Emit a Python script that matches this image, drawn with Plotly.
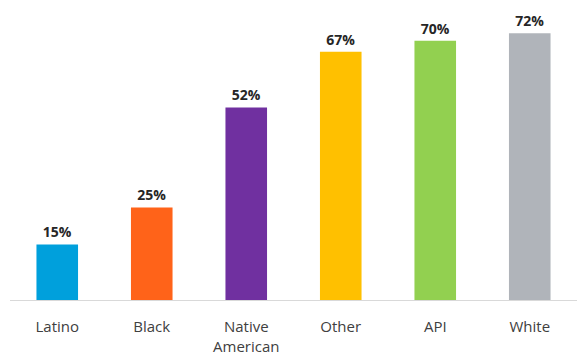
import plotly.graph_objects as go

categories = ["Latino", "Black", "Native<br>American", "Other", "API", "White"]
values = [15, 25, 52, 67, 70, 72]
labels = ["15%", "25%", "52%", "67%", "70%", "72%"]
colors = ["#00A0DC", "#FF6319", "#7030A0", "#FFC000", "#92D050", "#B0B4BA"]

fig = go.Figure(go.Bar(
    x=categories, y=values, marker_color=colors, marker_line_width=0,
    text=labels, textposition="outside", cliponaxis=False,
    textfont=dict(family="Open Sans", size=14, color="#262626", weight="bold"),
))
fig.update_layout(
    width=577, height=363, margin=dict(l=10, r=0, t=0, b=63),
    paper_bgcolor="white", plot_bgcolor="white", bargap=0.56,
    showlegend=False,
)
fig.update_xaxes(showline=True, linecolor="#D9D9D9", linewidth=1, ticks="",
                 tickfont=dict(family="Open Sans", size=15, color="#404040"),
                 ticklabelstandoff=13)
fig.update_yaxes(range=[0, 81], visible=False, showgrid=False)
fig.write_html("out.html")
